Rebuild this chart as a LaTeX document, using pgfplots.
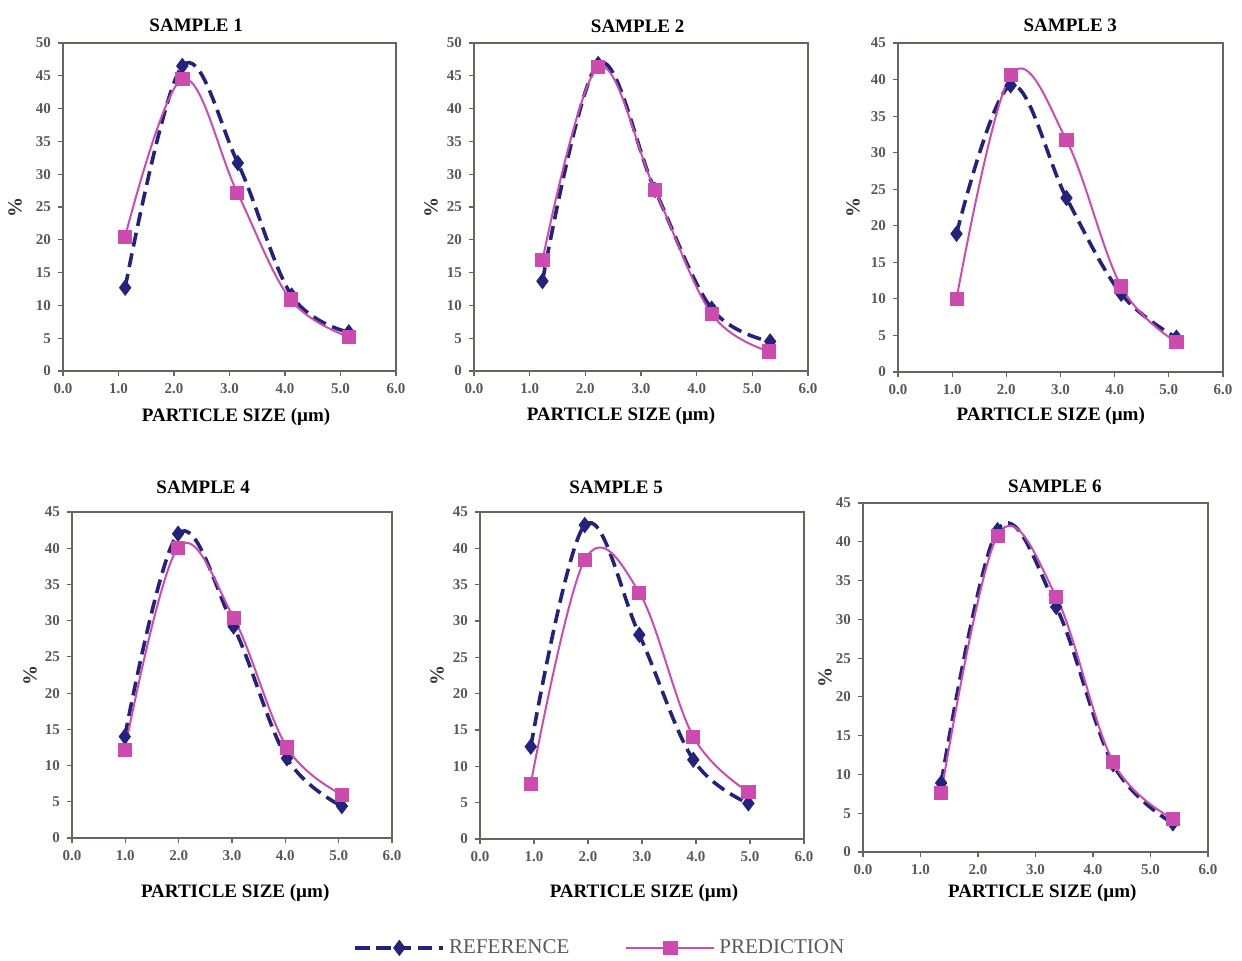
\documentclass[border=0pt]{standalone}
\usepackage{pgfplots}
\pgfplotsset{compat=1.18}
\usepackage{fontspec}
\setmainfont{Liberation Serif}
\definecolor{refc}{RGB}{35,35,125}
\definecolor{predc}{RGB}{205,75,175}
\definecolor{framec}{RGB}{105,100,95}
\pgfplotsset{
  samp/.style={
    scale only axis,
    xmin=0, xmax=6, ymin=0,
    xtick={0,1,2,3,4,5,6},
    axis line style={framec, line width=1pt},
    tick style={framec, line width=0.6pt},
    tick align=outside,
    major tick length=2.5pt,
    xtick pos=bottom, ytick pos=left,
    /pgf/number format/assume math mode=true,
    xticklabel style={font=\fontsize{7.5}{8}\selectfont\bfseries, text=black!65, /pgf/number format/fixed, /pgf/number format/fixed zerofill, /pgf/number format/precision=1},
    yticklabel style={font=\fontsize{7.5}{8}\selectfont\bfseries, text=black!65},
    xlabel={PARTICLE SIZE (µm)},
    ylabel={\%},
  },
  lay/.style n args={6}{
    every axis title/.style={at={(axis description cs:#1,1)}, anchor=base, yshift=#2, font=\fontsize{9.5}{11}\selectfont\bfseries},
    every axis x label/.style={at={(axis description cs:#3,0)}, anchor=base, yshift=#4, font=\fontsize{9.5}{11}\selectfont\bfseries},
    every axis y label/.style={at={(axis description cs:0,0.5)}, xshift=#5, rotate=90, anchor=center, font=\fontsize{10}{11}\selectfont\bfseries, text=black!80},
    title={SAMPLE #6},
  },
  refp/.style={refc, line width=1.8pt, dash pattern=on 7pt off 3.5pt, smooth, tension=0.6, mark=diamond*, mark size=3.8pt, mark options={solid, line width=0.4pt, fill=refc}},
  predp/.style={predc, line width=1pt, smooth, tension=0.6, mark=square*, mark size=3.3pt, mark options={solid, line width=0.4pt, fill=predc}},
}
\begin{document}
\begin{tikzpicture}
\useasboundingbox (0,0) rectangle (621pt,480pt);
% Sample 1
\begin{axis}[samp, at={(31.5pt,294.5pt)}, anchor=south west, width=166.5pt, height=164pt,
  ymax=50, ytick={0,5,...,50}, lay={0.40}{6pt}{0.52}{-25pt}{-24pt}{1}]
\addplot[refp] coordinates {(1.12,12.7) (2.15,46.5) (3.15,31.7) (4.12,11.5) (5.15,5.9)};
\addplot[predp] coordinates {(1.12,20.5) (2.15,44.5) (3.14,27.2) (4.1,10.9) (5.15,5.2)};
\end{axis}
% Sample 2
\begin{axis}[samp, at={(237pt,294.5pt)}, anchor=south west, width=167pt, height=164pt,
  ymax=50, ytick={0,5,...,50}, lay={0.49}{5.5pt}{0.44}{-24.5pt}{-21.5pt}{2}]
\addplot[refp] coordinates {(1.23,13.7) (2.23,46.8) (3.25,27.6) (4.27,9.5) (5.32,4.5)};
\addplot[predp] coordinates {(1.23,16.9) (2.23,46.3) (3.25,27.6) (4.27,8.7) (5.3,3.0)};
\end{axis}
% Sample 3
\begin{axis}[samp, at={(449pt,294pt)}, anchor=south west, width=162.5pt, height=164.5pt,
  ymax=45, ytick={0,5,...,45}, lay={0.53}{5.5pt}{0.47}{-24pt}{-22.5pt}{3}]
\addplot[refp] coordinates {(1.08,18.9) (2.08,39.2) (3.11,23.8) (4.12,10.7) (5.14,4.7)};
\addplot[predp] coordinates {(1.08,10.0) (2.08,40.6) (3.11,31.7) (4.12,11.7) (5.14,4.1)};
\end{axis}
% Sample 4
\begin{axis}[samp, at={(36pt,61pt)}, anchor=south west, width=160pt, height=163pt,
  ymax=45, ytick={0,5,...,45}, lay={0.41}{9.5pt}{0.51}{-29.5pt}{-21pt}{4}]
\addplot[refp] coordinates {(0.99,14.0) (1.99,42.0) (3.03,29.2) (4.03,11.0) (5.06,4.4)};
\addplot[predp] coordinates {(0.99,12.2) (1.99,40.1) (3.03,30.4) (4.03,12.5) (5.06,6.0)};
\end{axis}
% Sample 5
\begin{axis}[samp, at={(240pt,60.5pt)}, anchor=south west, width=162pt, height=163.5pt,
  ymax=45, ytick={0,5,...,45}, lay={0.42}{9.5pt}{0.506}{-29pt}{-21.5pt}{5},
  legend style={at={(axis description cs:-0.41,-0.333)}, anchor=west, draw=none, fill=none,
    legend columns=2, font=\fontsize{10.5}{12}\selectfont, text=black!65,
    /tikz/every even column/.append style={column sep=26pt}},
  legend image code/.code={\draw[mark repeat=2,mark phase=2] plot coordinates {(0pt,0pt) (22pt,0pt) (44pt,0pt)};}]
\addplot[refp] coordinates {(0.94,12.7) (1.94,43.2) (2.95,28.1) (3.95,10.9) (4.97,4.9)};
\addplot[predp] coordinates {(0.94,7.6) (1.94,38.4) (2.95,33.9) (3.95,14.1) (4.97,6.5)};
\legend{REFERENCE, PREDICTION}
\end{axis}
% Sample 6
\begin{axis}[samp, at={(431.5pt,54pt)}, anchor=south west, width=172.5pt, height=174.5pt,
  ymax=45, ytick={0,5,...,45}, lay={0.556}{5.5pt}{0.52}{-22.5pt}{-19pt}{6}]
\addplot[refp] coordinates {(1.36,8.9) (2.34,41.5) (3.36,31.6) (4.35,11.3) (5.39,3.7)};
\addplot[predp] coordinates {(1.36,7.6) (2.34,40.8) (3.36,32.9) (4.35,11.6) (5.39,4.3)};
\end{axis}
\end{tikzpicture}
\end{document}
